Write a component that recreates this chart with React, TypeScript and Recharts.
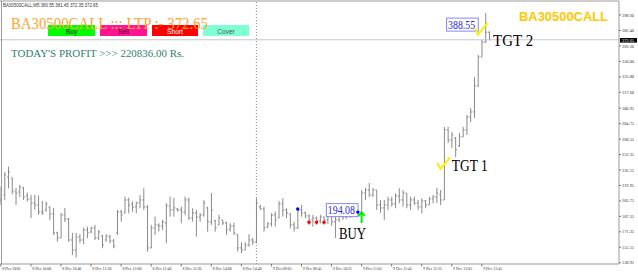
import React from 'react';
import { ComposedChart, Bar, XAxis, YAxis, ReferenceLine, ReferenceDot } from 'recharts';

// 5 minute bars, 8 Dec 09:20 .. 9 Dec 13:55
const opens = [
  204.75, 210.0, 228.85, 227.8, 213.1, 213.1, 217.3, 208.9, 205.8, 201.6,
  199.5, 192.2, 194.3, 197.4, 190.1, 170.2, 164.9, 189.0, 184.8, 162.8,
  152.35, 166.0, 162.8, 173.3, 171.2, 175.4, 164.9, 167.0, 162.8, 166.0,
  161.8, 170.2, 192.2, 191.1, 204.75, 200.6, 197.4, 201.6, 204.75, 197.4,
  154.45, 175.4, 178.55, 177.5, 180.65, 198.5, 194.3, 195.3, 194.3, 192.2,
  204.75, 185.9, 191.1, 186.9, 189.0, 196.4, 181.7, 183.0, 178.55, 183.8,
  180.65, 174.4, 177.5, 168.6, 154.45, 152.35, 157.6, 162.8, 160.7, 197.4,
  195.3, 176.45, 179.6, 189.0, 185.9, 200.6, 194.3, 190.1, 178.55, 175.4,
  194.3, 191.1, 188.0, 183.8, 185.9, 182.7, 186.9, 183.8, 188.0, 181.7,
  183.8, 190.1, 186.9, 191.1, 189.0, 193.2, 192.2, 212.1, 215.2, 210.0,
  215.2, 199.5, 196.4, 199.5, 204.75, 200.6, 208.9, 204.75, 211.8, 199.5,
  204.75, 201.6, 197.4, 203.7, 199.5, 205.8, 207.9, 210.0, 204.75, 278.1,
  267.6, 269.7, 261.3, 270.8, 278.1, 291.7, 297.0, 324.2, 354.6, 370.3,
  380.55,
];
const highs = [
  218.7, 234.1, 239.65, 227.8, 217.3, 220.5, 218.4, 212.4, 210.0, 210.0,
  209.3, 203.7, 203.0, 197.7, 196.4, 171.5, 191.1, 196.4, 185.9, 170.2,
  170.2, 169.1, 175.8, 176.8, 176.8, 178.55, 173.3, 168.1, 168.8, 168.1,
  163.9, 194.3, 194.3, 208.2, 207.2, 203.0, 203.0, 210.0, 217.0, 199.5,
  178.55, 187.25, 180.3, 183.8, 201.3, 208.2, 206.85, 196.05, 197.7, 208.2,
  207.2, 196.05, 194.3, 190.8, 204.75, 197.7, 212.1, 183.8, 189.0, 183.8,
  182.0, 180.3, 180.65, 168.8, 160.4, 160.4, 168.8, 164.9, 206.5, 199.5,
  197.7, 181.7, 190.8, 192.5, 203.7, 206.5, 196.05, 190.8, 182.0, 196.05,
  199.5, 192.5, 189.8, 189.0, 187.25, 189.0, 187.25, 192.2, 191.1, 186.9,
  193.2, 194.3, 193.2, 196.4, 195.3, 194.3, 215.2, 217.3, 222.6, 217.3,
  215.2, 204.75, 204.75, 208.2, 208.2, 211.8, 217.0, 215.2, 211.8, 208.2,
  208.2, 204.75, 206.5, 204.75, 208.2, 210.0, 217.3, 215.2, 281.25, 281.25,
  276.0, 270.8, 275.0, 281.25, 293.8, 301.2, 333.65, 356.7, 372.4, 400.7,
  381.45,
];
const lows = [
  199.5, 204.75, 217.0, 210.7, 199.5, 207.9, 204.75, 203.0, 185.6, 194.3,
  189.0, 189.0, 192.5, 183.8, 168.1, 161.0, 164.9, 181.7, 161.0, 147.1,
  144.3, 159.7, 158.3, 164.6, 169.8, 162.8, 162.8, 154.2, 161.0, 159.3,
  154.2, 168.1, 182.0, 190.8, 190.8, 192.5, 190.8, 196.0, 194.3, 150.6,
  154.2, 168.1, 171.5, 173.3, 159.4, 187.25, 187.25, 192.5, 180.3, 189.0,
  183.8, 182.0, 166.3, 182.0, 187.25, 171.5, 178.55, 171.5, 178.55, 178.55,
  168.1, 171.5, 168.1, 150.6, 148.9, 152.35, 155.8, 157.6, 159.4, 194.3,
  171.5, 175.4, 176.8, 176.8, 185.6, 187.25, 185.6, 175.1, 171.5, 174.4,
  187.25, 185.6, 178.55, 176.8, 178.55, 180.3, 178.55, 179.6, 177.5, 164.9,
  181.7, 183.8, 184.8, 185.9, 188.0, 186.9, 192.2, 204.75, 207.9, 207.9,
  194.3, 191.1, 183.8, 194.3, 197.7, 196.0, 201.3, 197.7, 196.0, 194.3,
  199.5, 194.3, 190.8, 196.0, 199.5, 201.3, 201.6, 199.5, 204.75, 264.5,
  259.25, 249.8, 260.3, 270.8, 272.9, 286.5, 290.7, 323.2, 354.6, 369.3,
  372.35,
];
const closes = [
  215.2, 230.95, 234.1, 214.2, 212.0, 218.4, 207.9, 205.8, 201.6, 199.5,
  192.2, 191.1, 200.6, 190.1, 170.2, 164.9, 189.0, 184.8, 162.8, 152.35,
  166.0, 162.8, 173.3, 170.2, 175.4, 164.9, 171.2, 157.6, 167.0, 161.8,
  156.5, 192.2, 189.0, 204.75, 199.5, 197.4, 201.6, 204.75, 197.4, 154.45,
  175.4, 178.55, 177.5, 181.7, 198.5, 194.3, 196.4, 194.3, 192.2, 204.75,
  185.9, 191.1, 186.9, 189.0, 201.6, 181.7, 194.3, 175.4, 185.9, 180.65,
  173.3, 177.5, 170.2, 154.45, 152.35, 157.6, 162.8, 160.7, 201.6, 195.3,
  175.4, 179.6, 189.0, 183.8, 200.6, 194.3, 191.1, 178.55, 175.4, 194.3,
  191.1, 188.0, 183.8, 185.9, 182.7, 186.9, 183.8, 188.0, 181.7, 183.8,
  190.1, 186.9, 191.1, 189.0, 193.2, 192.2, 212.1, 215.2, 210.0, 215.2,
  199.5, 196.4, 199.5, 204.75, 200.6, 208.9, 204.75, 212.1, 199.5, 204.75,
  201.6, 197.4, 203.7, 199.5, 205.8, 207.9, 212.1, 204.75, 278.1, 267.6,
  272.9, 257.15, 270.8, 278.1, 291.7, 297.0, 324.2, 354.6, 370.3, 380.55,
  372.65,
];

const timeLabels = [
  '8 Dec 2020', '8 Dec 10:00', '8 Dec 10:40', '8 Dec 11:20', '8 Dec 12:00',
  '8 Dec 12:40', '8 Dec 13:20', '8 Dec 14:00', '8 Dec 14:40', '9 Dec 09:05',
  '9 Dec 09:45', '9 Dec 10:25', '9 Dec 11:05', '9 Dec 11:45', '9 Dec 12:25',
  '9 Dec 13:05', '9 Dec 13:45',
];
const labelIndex = [0, 8, 16, 24, 32, 40, 48, 56, 64, 72, 80, 88, 96, 104, 112, 120, 128];
const priceTicks = [
  398.6, 382.4, 366.2, 350.0, 333.8, 317.6, 300.95, 284.75, 268.55,
  252.35, 236.15, 219.95, 203.75, 187.55, 171.35, 155.15, 138.95,
];

const lastPrice = 372.65;
const daySplit = 68;
const slots = 165; // bars + empty chart shift area on the right

const priceBoxes = [
  { i: 95, price: 194.08 },
  { i: 127, price: 388.55 },
];
const blueDots = [
  { i: 79, price: 195.3 },
  { i: 95, price: 192.0 },
];
const redDots = [
  { i: 82, price: 181.4 },
  { i: 84, price: 181.4 },
  { i: 86, price: 181.4 },
];
const buyArrow = { i: 96, price: 192.2 };
const checks = [
  { i: 117, price: 237.2 },
  { i: 127, price: 378.2 },
];
const notes = [
  { i: 90, price: 163.9, text: 'BUY', w: 27 },
  { i: 120, price: 235.15, text: 'TGT 1', w: 36 },
  { i: 131, price: 366.45, text: 'TGT 2', w: 40 },
];

const rows = Array.from({ length: slots }, (_, i) =>
  i < opens.length
    ? { i, open: opens[i], high: highs[i], low: lows[i], close: closes[i] }
    : { i }
);

const SERIF = '"Liberation Serif", "Times New Roman", serif';
const SANS = '"Liberation Sans", Arial, sans-serif';

function OhlcBar(props: any) {
  const { x, y, width, height, payload } = props;
  if (!payload || payload.high == null) return null;
  const top = Math.min(y, y + height);
  const span = Math.abs(height);
  const range = payload.high - payload.low;
  const at = (v: number) => (range > 0 ? top + ((payload.high - v) / range) * span : top);
  const cx = x + width / 2;
  return (
    <g stroke="#8a8a8a" strokeWidth={1}>
      <line x1={cx} x2={cx} y1={top} y2={top + span} />
      <line x1={cx - 1.4} x2={cx} y1={at(payload.open)} y2={at(payload.open)} />
      <line x1={cx} x2={cx + 1.4} y1={at(payload.close)} y2={at(payload.close)} />
    </g>
  );
}

function TimeTick(props: any) {
  const { x, y, payload } = props;
  const label = timeLabels[labelIndex.indexOf(payload.value)];
  if (!label) return null;
  return (
    <g>
      <line x1={x} x2={x} y1={y} y2={y + 2.5} stroke="#777" />
      <text
        x={x + 1.3}
        y={y + 6.4}
        fontSize={4.6}
        fontFamily={SERIF}
        fill="#333"
        textLength={label.length > 10 ? 19 : 18}
        lengthAdjust="spacingAndGlyphs"
      >
        {label}
      </text>
    </g>
  );
}

function PriceTick(props: any) {
  const { x, y, payload } = props;
  return (
    <g>
      <line x1={x} x2={x + 2} y1={y} y2={y} stroke="#777" />
      <text
        x={x + 3}
        y={y + 1.6}
        fontSize={4.6}
        fontFamily={SERIF}
        fill="#333"
        textLength={12}
        lengthAdjust="spacingAndGlyphs"
      >
        {payload.value.toFixed(2)}
      </text>
    </g>
  );
}

const PriceBox = (price: number) => (p: any) => (
  <g>
    <rect x={p.cx - 31.5} y={p.cy - 6.5} width={31.7} height={13} fill="#fff" stroke="#8585ff" />
    <text
      x={p.cx - 30}
      y={p.cy + 4}
      fontSize={11.5}
      fontFamily={SERIF}
      fill="#2b2bd6"
      textLength={27}
      lengthAdjust="spacingAndGlyphs"
    >
      {price.toFixed(2)}
    </text>
  </g>
);

const Dot = (color: string) => (p: any) => <circle cx={p.cx} cy={p.cy} r={1.7} fill={color} />;

const Check = (p: any) => (
  <path
    d={`M ${p.cx - 3.2} ${p.cy - 6} L ${p.cx} ${p.cy} L ${p.cx + 9.5} ${p.cy - 11.5}`}
    fill="none"
    stroke="#ffee00"
    strokeWidth={2}
  />
);

const Arrow = (p: any) => (
  <path
    d={`M ${p.cx - 3.3} ${p.cy + 4} L ${p.cx} ${p.cy + 0.5} L ${p.cx + 3.3} ${p.cy + 4} M ${p.cx} ${p.cy + 0.5} L ${p.cx} ${p.cy + 11}`}
    fill="none"
    stroke="#00ee00"
    strokeWidth={2}
  />
);

const Note = (text: string, w: number) => (p: any) => (
  <text
    x={p.cx}
    y={p.cy}
    fontSize={17}
    fontFamily={SERIF}
    fill="#000"
    textLength={w}
    lengthAdjust="spacingAndGlyphs"
  >
    {text}
  </text>
);

const buttons = [
  { label: 'Buy', x: 48, w: 47, fill: '#00ff00', color: '#222' },
  { label: 'Sell', x: 100, w: 47, fill: '#ff1493', color: '#4a0028' },
  { label: 'Short', x: 152, w: 46, fill: '#ff0000', color: '#fff' },
  { label: 'Cover', x: 203, w: 46, fill: '#7fffd4', color: '#555' },
];

export default function App() {
  return (
    <div style={{ position: 'absolute', left: 0, top: 0, width: 638, height: 274, background: '#fff' }}>
      <ComposedChart
        width={638}
        height={274}
        data={rows}
        margin={{ top: 1, right: 0, bottom: 0, left: -1 }}
        barCategoryGap={0}
      >
        <XAxis
          dataKey="i"
          type="category"
          ticks={labelIndex}
          interval={0}
          tick={<TimeTick />}
          tickLine={false}
          tickSize={0}
          tickMargin={0}
          height={10}
          axisLine={{ stroke: '#9a9a9a' }}
        />
        <YAxis
          orientation="right"
          type="number"
          domain={[137.6, 413.3]}
          allowDataOverflow
          ticks={priceTicks}
          interval={0}
          tick={<PriceTick />}
          tickLine={false}
          tickSize={0}
          tickMargin={0}
          width={19}
          axisLine={{ stroke: '#9a9a9a' }}
        />
        <ReferenceLine x={daySplit} stroke="#8a8a8a" strokeDasharray="1 2" />
        <ReferenceLine y={lastPrice} stroke="#c8c8c8" />
        <Bar
          dataKey={(d: any) => (d.high == null ? null : [d.low, d.high])}
          shape={<OhlcBar />}
          isAnimationActive={false}
        />
        {redDots.map((d, k) => (
          <ReferenceDot key={'r' + k} x={d.i} y={d.price} shape={Dot('#ff0000')} />
        ))}
        {priceBoxes.map((d, k) => (
          <ReferenceDot key={'b' + k} x={d.i} y={d.price} shape={PriceBox(d.price)} />
        ))}
        {blueDots.map((d, k) => (
          <ReferenceDot key={'d' + k} x={d.i} y={d.price} shape={Dot('#0000ff')} />
        ))}
        <ReferenceDot x={buyArrow.i} y={buyArrow.price} shape={Arrow} />
        {checks.map((d, k) => (
          <ReferenceDot key={'c' + k} x={d.i} y={d.price} shape={Check} />
        ))}
        {notes.map((d, k) => (
          <ReferenceDot key={'n' + k} x={d.i} y={d.price} shape={Note(d.text, d.w)} />
        ))}
      </ComposedChart>

      <svg
        width={638}
        height={274}
        style={{ position: 'absolute', left: 0, top: 0, pointerEvents: 'none' }}
      >
        <line x1={0} x2={619} y1={1} y2={1} stroke="#9a9a9a" />
        <line x1={1.5} x2={1.5} y1={1} y2={264} stroke="#9a9a9a" />
        <text x={3} y={6.8} fontSize={5} fontFamily={SANS} fill="#333" textLength={95} lengthAdjust="spacingAndGlyphs">
          BA30500CALL,M5 380.55 381.45 372.35 372.65
        </text>
        {buttons.map((b) => (
          <g key={b.label}>
            <rect x={b.x} y={25} width={b.w} height={11} fill={b.fill} />
            <text x={b.x + b.w / 2} y={34.4} fontSize={6.6} fontFamily={SANS} fill={b.color} textAnchor="middle">
              {b.label}
            </text>
          </g>
        ))}
        <text x={11} y={29.3} fontSize={17.5} fontFamily={SERIF} fill="#ffa530" textLength={197} lengthAdjust="spacingAndGlyphs">
          BA30500CALL ::: LTP :- 372.65
        </text>
        <text x={11} y={57.3} fontSize={11} fontFamily={SERIF} fill="#2f8070" textLength={173} lengthAdjust="spacingAndGlyphs">
          TODAY'S PROFIT &gt;&gt;&gt; 220836.00 Rs.
        </text>
        <text x={519} y={20.7} fontSize={12.5} fontWeight="bold" fontFamily={SANS} fill="#ffc800" textLength={89} lengthAdjust="spacingAndGlyphs">
          BA30500CALL
        </text>
        <rect x={620} y={38} width={17} height={4.6} fill="#000" />
        <text x={622} y={41.9} fontSize={4.6} fontFamily={SERIF} fill="#fff" textLength={12} lengthAdjust="spacingAndGlyphs">
          372.65
        </text>
      </svg>
    </div>
  );
}
